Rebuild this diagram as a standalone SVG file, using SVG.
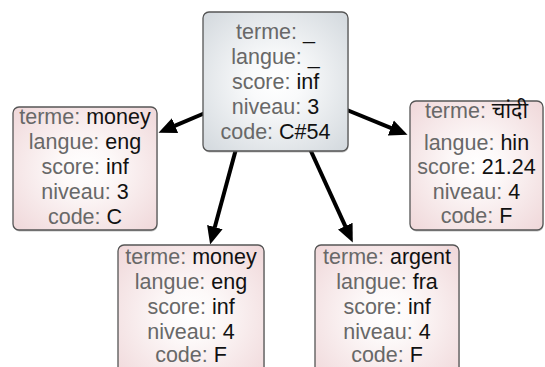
<svg xmlns="http://www.w3.org/2000/svg" width="545" height="367" viewBox="0 0 545 367">
<style>
.box{stroke:#555;stroke-width:1.3}
.shadow{fill:#777;opacity:0.45}
.root{fill:url(#gRoot)}
.leaf{fill:url(#gLeaf)}
text{font-family:"Liberation Sans",Arial,Helvetica,"Noto Sans Devanagari","Lohit Devanagari",sans-serif;font-size:21.5px;text-anchor:middle;fill:#686868}
.v{fill:#111}
.edge{stroke:#000;stroke-width:4;fill:none;marker-end:url(#arr)}
</style>
<defs>
<radialGradient id="gRoot" cx="50%" cy="50%" r="72%">
<stop offset="0" stop-color="#ffffff"/>
<stop offset="0.25" stop-color="#f9fafb"/>
<stop offset="1" stop-color="#d1d7dc"/>
</radialGradient>
<radialGradient id="gLeaf" cx="50%" cy="50%" r="72%">
<stop offset="0" stop-color="#ffffff"/>
<stop offset="0.25" stop-color="#fdf9f9"/>
<stop offset="1" stop-color="#efd6d8"/>
</radialGradient>
<marker id="arr" markerUnits="userSpaceOnUse" viewBox="0 -9 20 18" refX="0.5" refY="0" markerWidth="20" markerHeight="18" orient="auto">
<path d="M0,-8 L18,0 L0,8 z" fill="#000"/>
</marker>
</defs>
<g id="edges">
<line class="edge" x1="205" y1="113" x2="174.6" y2="125.9"/>
<line class="edge" x1="347" y1="110" x2="391.3" y2="128.2"/>
<line class="edge" x1="236" y1="149" x2="214.7" y2="227.6"/>
<line class="edge" x1="310" y1="149" x2="345.5" y2="226.6"/>
</g>
<g id="root">
<rect class="shadow" x="203.5" y="13.5" width="145" height="139" rx="6"/>
<rect class="box root" x="203" y="12" width="145" height="139" rx="6"/>
<text x="275.5" y="39">terme: <tspan class="v">_</tspan></text>
<text x="275.5" y="64">langue: <tspan class="v">_</tspan></text>
<text x="275.5" y="89">score: <tspan class="v">inf</tspan></text>
<text x="275.5" y="114">niveau: <tspan class="v">3</tspan></text>
<text x="275.5" y="139">code: <tspan class="v">C#54</tspan></text>
</g>
<g id="money_eng_3">
<rect class="shadow" x="13.5" y="108.5" width="144" height="123" rx="6"/>
<rect class="box leaf" x="13" y="107" width="144" height="123" rx="6"/>
<text x="85" y="124">terme: <tspan class="v">money</tspan></text>
<text x="85" y="149">langue: <tspan class="v">eng</tspan></text>
<text x="85" y="174">score: <tspan class="v">inf</tspan></text>
<text x="85" y="199">niveau: <tspan class="v">3</tspan></text>
<text x="85" y="224">code: <tspan class="v">C</tspan></text>
</g>
<g id="chandi_hin">
<rect class="shadow" x="410.5" y="102.5" width="133" height="129" rx="6"/>
<rect class="box leaf" x="410" y="101" width="133" height="129" rx="6"/>
<text x="476.5" y="118">terme: <tspan class="v">चांदी</tspan></text>
<text x="476.5" y="150">langue: <tspan class="v">hin</tspan></text>
<text x="476.5" y="174">score: <tspan class="v">21.24</tspan></text>
<text x="476.5" y="199">niveau: <tspan class="v">4</tspan></text>
<text x="476.5" y="223">code: <tspan class="v">F</tspan></text>
</g>
<g id="money_eng_4">
<rect class="shadow" x="118.5" y="246.5" width="146" height="140" rx="6"/>
<rect class="box leaf" x="118" y="245" width="146" height="140" rx="6"/>
<text x="191" y="264">terme: <tspan class="v">money</tspan></text>
<text x="191" y="289">langue: <tspan class="v">eng</tspan></text>
<text x="191" y="314">score: <tspan class="v">inf</tspan></text>
<text x="191" y="339">niveau: <tspan class="v">4</tspan></text>
<text x="191" y="362">code: <tspan class="v">F</tspan></text>
</g>
<g id="argent_fra">
<rect class="shadow" x="315.5" y="246.5" width="144" height="140" rx="6"/>
<rect class="box leaf" x="315" y="245" width="144" height="140" rx="6"/>
<text x="387" y="264">terme: <tspan class="v">argent</tspan></text>
<text x="387" y="289">langue: <tspan class="v">fra</tspan></text>
<text x="387" y="314">score: <tspan class="v">inf</tspan></text>
<text x="387" y="339">niveau: <tspan class="v">4</tspan></text>
<text x="387" y="362">code: <tspan class="v">F</tspan></text>
</g>
</svg>
